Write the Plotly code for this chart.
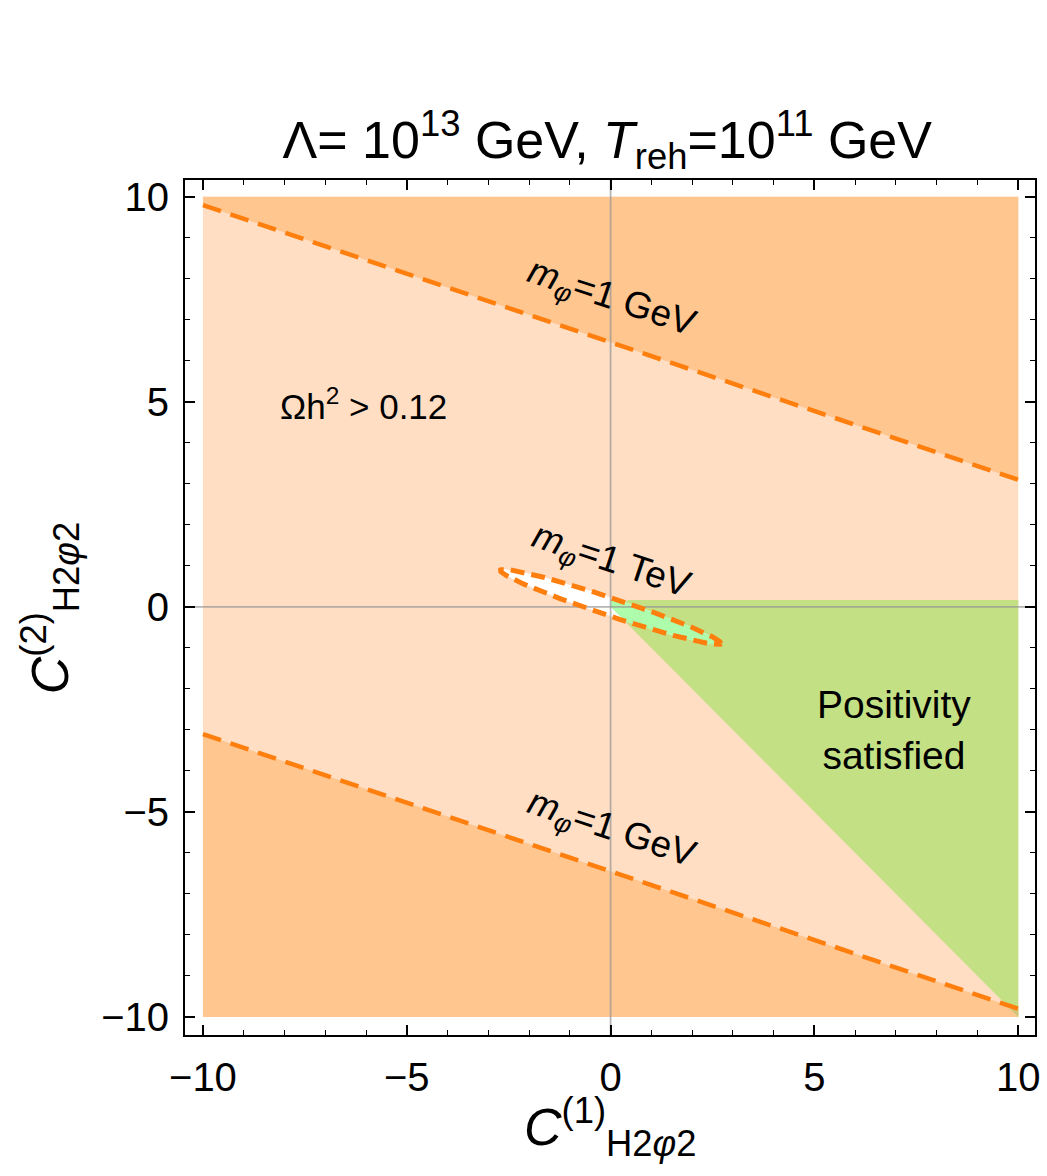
import numpy as np
import plotly.graph_objects as go

# ---- data ----
square_x = [-10, 10, 10, -10]
square_y = [-10, -10, 10, 10]

line_x = [-10, 10]
upper_line_y = [9.8, 3.1]
lower_line_y = [-3.1, -9.8]

upper_band_x = [-10, 10, 10, -10]
upper_band_y = [9.8, 3.1, 10, 10]
lower_band_x = [-10, 10, 10, -10]
lower_band_y = [-3.1, -9.8, -10, -10]

green_x = [0.0, 0.45, 10, 10]
green_y = [0.0, 0.17, 0.17, -10]
green_top = 0.17

olive_x = [9.7, 10, 10]
olive_y = [-9.7, -9.8, -10]

ell_center = (0.0, 0.0)
ell_a = 2.85
ell_b = 0.22
ell_angle_deg = -18.3

x_range = [-10.44, 10.41]
y_range = [-10.44, 10.41]
major_ticks = [-10, -5, 0, 5, 10]

# ---- colours ----
C_PEACH = "#FFDEC4"
C_DARK = "#FFC690"
C_GREEN = "#C4E084"
C_LGREEN = "#ADFDAD"
C_OLIVE = "#D2C47B"
C_ORANGE = "#FF7F0E"
FONT = "Liberation Sans, Arial, sans-serif"

# ellipse outline
t = np.linspace(0, 2 * np.pi, 400)
th = np.deg2rad(ell_angle_deg)
ex = ell_center[0] + ell_a * np.cos(t) * np.cos(th) - ell_b * np.sin(t) * np.sin(th)
ey = ell_center[1] + ell_a * np.cos(t) * np.sin(th) + ell_b * np.sin(t) * np.cos(th)

# part of ellipse interior inside positivity region (x>=0, clipped)
mask = ex >= 0
px = ex[mask]
py = np.clip(ey[mask], -px, green_top)
order = np.argsort(np.arctan2(py - np.mean(py), px - np.mean(px)))
px, py = px[order], py[order]

fig = go.Figure()


def poly(x, y, color):
    fig.add_trace(go.Scatter(x=list(x), y=list(y), fill="toself", fillcolor=color,
                             mode="lines", line=dict(width=0), hoverinfo="skip",
                             showlegend=False))


poly(square_x, square_y, C_PEACH)
poly(upper_band_x, upper_band_y, C_DARK)
poly(lower_band_x, lower_band_y, C_DARK)
poly(green_x, green_y, C_GREEN)
poly(olive_x, olive_y, C_OLIVE)
poly(ex, ey, "white")
poly(px, py, C_LGREEN)

# zero lines on top of fills
fig.add_trace(go.Scatter(x=[0, 0], y=y_range, mode="lines",
                         line=dict(color="rgba(150,150,150,0.7)", width=1.8),
                         hoverinfo="skip", showlegend=False))
fig.add_trace(go.Scatter(x=x_range, y=[0, 0], mode="lines",
                         line=dict(color="rgba(150,150,150,0.7)", width=1.8),
                         hoverinfo="skip", showlegend=False))

# dashed contours
for yy in (upper_line_y, lower_line_y):
    fig.add_trace(go.Scatter(x=line_x, y=yy, mode="lines",
                             line=dict(color=C_ORANGE, width=4.5, dash="19px,10px"),
                             hoverinfo="skip", showlegend=False))
fig.add_trace(go.Scatter(x=ex, y=ey, mode="lines",
                         line=dict(color=C_ORANGE, width=5, dash="14px,7px"),
                         hoverinfo="skip", showlegend=False))

ann_font = dict(family=FONT, size=37, color="black")
fig.add_annotation(x=0.02, y=7.5, text="<i>m</i><sub><i>φ</i></sub>=1 GeV", textangle=18.5,
                   showarrow=False, font=ann_font)
fig.add_annotation(x=0.02, y=-5.45, text="<i>m</i><sub><i>φ</i></sub>=1 GeV", textangle=18.5,
                   showarrow=False, font=ann_font)
fig.add_annotation(x=0.0, y=1.1, text="<i>m</i><sub><i>φ</i></sub>=1 TeV", textangle=18.5,
                   showarrow=False, font=ann_font)
fig.add_annotation(x=-6.05, y=4.95, text="Ωh<sup>2</sup> > 0.12",
                   showarrow=False, font=dict(family=FONT, size=35, color="black"))
fig.add_annotation(x=6.95, y=-3.0, text="Positivity<br>satisfied",
                   showarrow=False, font=dict(family=FONT, size=39, color="black"))

# axis titles
fig.add_annotation(xref="paper", yref="paper", x=0.5, y=-0.153,
                   text="<i>C</i><sup>(1)</sup><sub>H2<i>φ</i>2</sub>",
                   showarrow=False, font=dict(family=FONT, size=52, color="black"))
fig.add_annotation(xref="paper", yref="paper", x=-0.205, y=0.5, textangle=-90,
                   text="<i>C</i><sup>(2)</sup><sub>H2<i>φ</i>2</sub>",
                   showarrow=False, font=dict(family=FONT, size=52, color="black"))

axis_common = dict(showgrid=False, zeroline=False, showline=True, linecolor="black",
                   linewidth=2, mirror="allticks", ticks="inside", ticklen=10,
                   tickwidth=1.5, tickcolor="black", tickvals=major_ticks,
                   tickfont=dict(family=FONT, size=40, color="black"),
                   minor=dict(dtick=1, ticks="inside", ticklen=5, tickwidth=1.2,
                              tickcolor="black", showgrid=False),
                   ticklabelstandoff=6)

fig.update_xaxes(range=x_range, **axis_common)
fig.update_yaxes(range=y_range, **axis_common)

fig.update_layout(
    width=1047, height=1176,
    margin=dict(l=185, r=7, t=180, b=141),
    plot_bgcolor="white", paper_bgcolor="white",
    title=dict(text="Λ= 10<sup>13</sup> GeV, <i>T</i><sub>reh</sub>=10<sup>11</sup> GeV",
               x=0.58, xanchor="center", y=1 - 140 / 1176, yanchor="middle", yref="container",
               font=dict(family=FONT, size=52, color="black")),
)

fig.write_html("out.html")
